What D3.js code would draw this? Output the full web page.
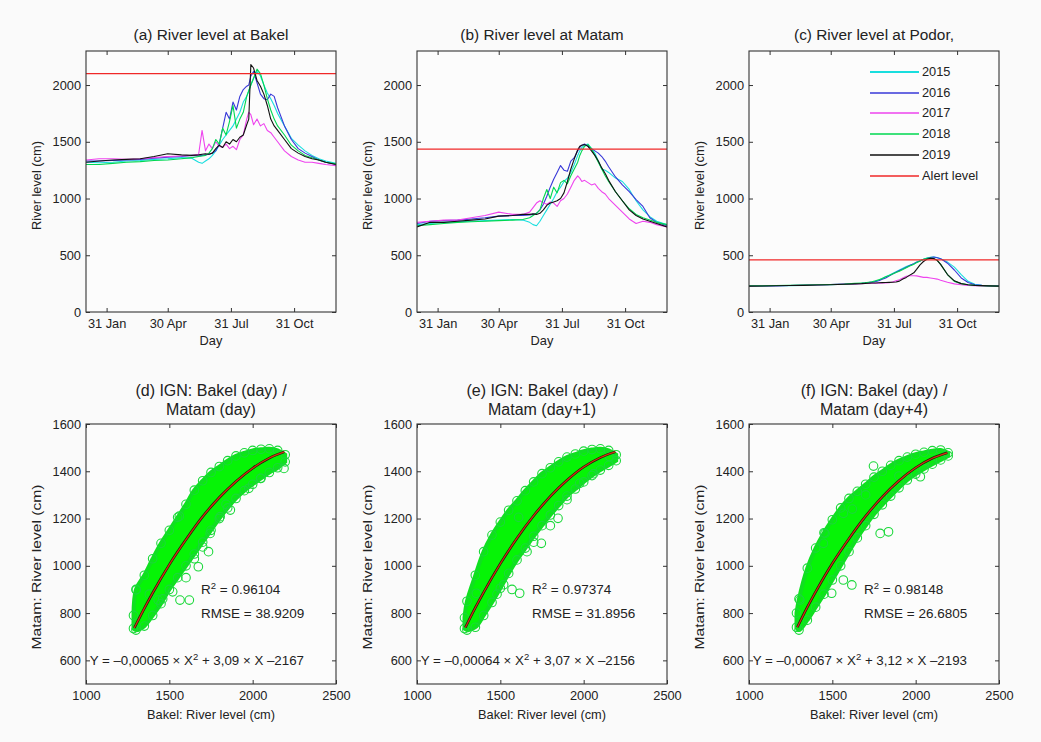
<!DOCTYPE html>
<html><head><meta charset="utf-8">
<script src="https://cdn.jsdelivr.net/npm/d3@7"></script>
<style>
body{margin:0;background:#fafafa}
svg{display:block}
</style>
</head><body>
<svg id="c" width="1041" height="742"></svg>
<script>
// ---------------- DATA ----------------
const years = ["2015", "2016", "2017", "2018", "2019"];
const days = [1,20,40,60,80,100,120,140,155,165,170,175,180,185,190,195,200,205,210,215,220,225,230,235,238,241,245,250,255,260,265,270,275,280,290,300,310,320,330,340,350,365];
const monthTickDays = [31, 120, 212, 304];
const monthTickLabels = ["31 Jan", "30 Apr", "31 Jul", "31 Oct"];
const levelTicks = [0, 500, 1000, 1500, 2000];

// Bakel river level (cm)
const bakel2015 = [1320,1315,1320,1330,1335,1345,1350,1360,1355,1320,1310,1330,1350,1380,1420,1470,1520,1560,1600,1640,1700,1760,1850,1900,1950,2000,2060,2120,2080,2000,1930,1880,1820,1750,1640,1530,1470,1420,1380,1350,1330,1310];
const bakel2016 = [1330,1330,1335,1340,1345,1355,1365,1370,1380,1375,1380,1385,1390,1400,1420,1480,1620,1760,1700,1850,1780,1900,1960,1990,2000,2080,2120,2020,1920,1880,1870,1920,1900,1800,1640,1520,1440,1400,1370,1340,1320,1300];
const bakel2017 = [1340,1350,1350,1345,1350,1360,1370,1375,1380,1390,1600,1420,1480,1440,1500,1460,1450,1480,1440,1460,1430,1520,1560,1700,1760,1740,1650,1700,1640,1660,1600,1580,1540,1500,1420,1370,1340,1320,1320,1310,1300,1290];
const bakel2018 = [1300,1300,1310,1320,1325,1335,1340,1350,1360,1370,1375,1380,1400,1440,1520,1480,1620,1560,1680,1820,1620,1700,1760,1900,1950,2000,2060,2140,2100,2000,1880,1780,1700,1640,1560,1470,1420,1380,1360,1340,1320,1305];
const bakel2019 = [1320,1330,1340,1345,1350,1370,1395,1385,1380,1385,1390,1395,1390,1400,1440,1470,1450,1500,1480,1520,1500,1540,1560,1650,1700,2180,2150,2040,1990,1920,1820,1700,1640,1600,1520,1440,1400,1370,1350,1340,1320,1300];

// Matam river level (cm)
const matam2015 = [770,780,790,795,800,805,810,815,810,790,770,760,800,850,900,950,1000,1060,1100,1150,1180,1230,1300,1380,1420,1450,1470,1480,1440,1400,1330,1260,1250,1230,1180,1150,1080,980,900,840,800,770];
const matam2016 = [780,800,805,810,820,830,845,850,850,855,860,870,900,950,1020,1100,1170,1230,1290,1250,1240,1330,1360,1420,1450,1470,1480,1460,1440,1420,1400,1370,1330,1280,1190,1120,1060,990,930,830,790,760];
const matam2017 = [790,800,810,810,830,850,880,860,860,880,920,960,980,960,950,970,960,930,980,1000,1040,1100,1160,1200,1180,1150,1160,1140,1120,1130,1090,1060,1040,1000,940,880,820,780,800,790,770,750];
const matam2018 = [760,770,780,790,795,800,805,810,815,830,850,870,900,1000,1080,1000,1100,1050,1140,1160,1130,1200,1260,1320,1380,1420,1460,1475,1440,1380,1320,1260,1200,1150,1060,980,910,860,830,810,790,770];
const matam2019 = [750,790,790,800,810,820,845,850,860,860,865,860,870,900,940,960,970,980,1000,1050,1150,1260,1350,1430,1460,1470,1475,1460,1420,1380,1330,1270,1220,1160,1060,980,900,850,820,800,780,750];

// Podor river level (cm)
const podor2015 = [225,228,230,232,235,238,240,245,250,252,255,258,262,270,280,295,310,325,340,355,370,385,400,412,418,425,440,452,465,475,482,485,480,470,440,395,330,270,245,235,230,228];
const podor2016 = [228,230,232,233,236,240,243,247,250,253,256,260,264,268,275,288,300,318,335,350,365,380,395,410,418,425,438,450,462,472,480,485,478,470,430,370,300,260,240,235,232,230];
const podor2017 = [227,229,231,233,236,239,242,246,248,250,251,252,253,254,254,255,255,258,265,275,285,300,315,320,320,320,318,312,305,305,300,295,290,280,262,248,240,235,232,230,229,227];
const podor2018 = [230,230,233,235,237,240,242,246,252,256,258,262,266,275,285,295,310,322,335,348,360,375,390,405,412,420,435,450,465,473,475,470,455,420,330,270,250,240,235,232,230,228];
const podor2019 = [228,229,231,233,235,238,240,244,248,250,252,253,255,256,258,259,260,261,262,264,272,290,305,325,335,345,375,415,445,465,473,472,455,420,330,275,250,240,235,232,230,228];

const alertLevels = [2100, 1435, 460];
const stationTitles = ["(a) River level at Bakel", "(b) River level at Matam", "(c) River level at Podor,"];

// Scatter (Bakel vs Matam): envelope of the dense point cloud + individual circles
const bandX = [1285,1300,1350,1400,1450,1500,1550,1600,1650,1700,1750,1800,1850,1900,1950,2000,2050,2100,2150,2195];
const bandHiD = [790,900,960,1030,1095,1150,1205,1260,1320,1360,1395,1420,1445,1465,1478,1488,1493,1495,1488,1470];
const bandLoD = [735,728,745,790,840,900,950,1000,1050,1100,1150,1200,1245,1285,1318,1345,1370,1395,1415,1440];
const bandHiE = [780,850,960,1060,1130,1185,1235,1275,1318,1355,1390,1415,1440,1460,1473,1485,1492,1495,1488,1470];
const bandLoE = [735,728,740,790,845,905,968,1025,1075,1125,1170,1215,1255,1295,1325,1355,1382,1405,1425,1445];
const bandHiF = [800,860,990,1075,1140,1195,1245,1285,1315,1345,1375,1400,1425,1445,1460,1472,1480,1487,1490,1478];
const bandLoF = [740,728,770,825,880,940,1000,1060,1118,1170,1218,1258,1295,1330,1363,1388,1410,1430,1448,1465];

const outX_D = [1302,1433,1564,1620,1674,1735,1745,1805,1866,1977,2047,1460,1520,1600,1650,2188,1700,1840,1380,1560];
const outY_D = [898,855,855,855,996,1060,1137,1208,1236,1328,1370,860,890,950,1030,1412,1080,1260,880,1210];
const outX_E = [1356,1570,1616,1746,1846,1976,2156,1480,1520,1660,1700,1800,1900,2060,1610];
const outY_E = [884,900,884,1095,1201,1349,1462,880,920,1060,1100,1170,1280,1390,1205];
const outX_F = [1747,1456,1446,1787,1837,1566,1617,1496,1566,1305,2028,1620,1700,1900];
const outY_F = [1422,1137,1095,1137,1144,940,919,884,1222,855,1377,1240,1300,1380];

// fitted curves as drawn
const fitX  = [1290,1350,1400,1500,1600,1700,1800,1900,2000,2100,2190];
const fitYD = [737,820,885,1005,1111,1208,1289,1357,1413,1456,1482];
const fitYE = [739,823,888,1009,1117,1212,1294,1362,1418,1458,1482];
const fitYF = [740,825,890,1010,1115,1210,1292,1360,1415,1455,1478];

const r2Values = ["0.96104", "0.97374", "0.98148"];
const rmseValues = ["38.9209", "31.8956", "26.6805"];
const eqA = ["\u20130,00065", "\u20130,00064", "\u20130,00067"];
const eqB = ["3,09", "3,07", "3,12"];
const eqC = ["\u20132167", "\u20132156", "\u20132193"];
const scatterTitles1 = ["(d) IGN: Bakel (day) /", "(e) IGN: Bakel (day) /", "(f) IGN: Bakel (day) /"];
const scatterTitles2 = ["Matam (day)", "Matam (day+1)", "Matam (day+4)"];
const scatterXTicks = [1000, 1500, 2000, 2500];
const scatterYTicks = [600, 800, 1000, 1200, 1400, 1600];

// ---------------- STYLE / LAYOUT ----------------
const yearColors = ["#19dede", "#3838d8", "#ee44ee", "#00d850", "#111111"];
const alertColor = "#f02828";
const FONT = '"Liberation Sans", Arial, Helvetica, sans-serif';
const W = 250;
const lefts = [86, 417, 749];
const topY = [51, 312];
const botY = [424, 684];

const svg = d3.select("#c").attr("font-family", FONT);

function drawFrame(g, x, y, xTicks, xFmt, yTicks) {
  const [x0, x1] = x.range();
  const [yb, yt] = y.range();
  const ax = g.append("g").attr("transform", `translate(0,${yb})`)
    .call(d3.axisBottom(x).tickValues(xTicks).tickFormat(xFmt).tickSizeInner(-4).tickSizeOuter(0).tickPadding(7));
  const at = g.append("g").attr("transform", `translate(0,${yt})`)
    .call(d3.axisTop(x).tickValues(xTicks).tickFormat("").tickSizeInner(-4).tickSizeOuter(0));
  const ay = g.append("g").attr("transform", `translate(${x0},0)`)
    .call(d3.axisLeft(y).tickValues(yTicks).tickFormat(d3.format("d")).tickSizeInner(-4).tickSizeOuter(0).tickPadding(5));
  const ar = g.append("g").attr("transform", `translate(${x1},0)`)
    .call(d3.axisRight(y).tickValues(yTicks).tickFormat("").tickSizeInner(-4).tickSizeOuter(0));
  [ax, at, ay, ar].forEach(a => {
    a.attr("font-family", FONT).attr("font-size", 12.8).attr("color", "#222");
    a.select(".domain").remove();
    a.selectAll("line").attr("stroke", "#333");
  });
  g.append("rect").attr("x", x0).attr("y", yt).attr("width", x1 - x0).attr("height", yb - yt)
    .attr("fill", "none").attr("stroke", "#333").attr("stroke-width", 1.1);
}

// ---------------- TOP ROW: time series ----------------
const stationSeries = [
  [bakel2015, bakel2016, bakel2017, bakel2018, bakel2019],
  [matam2015, matam2016, matam2017, matam2018, matam2019],
  [podor2015, podor2016, podor2017, podor2018, podor2019]
];

stationSeries.forEach((series, p) => {
  const x = d3.scaleLinear().domain([1, 365]).range([lefts[p], lefts[p] + W]);
  const y = d3.scaleLinear().domain([0, 2300]).range([topY[1], topY[0]]);
  const g = svg.append("g");
  g.append("rect").attr("x", lefts[p]).attr("y", topY[0]).attr("width", W).attr("height", topY[1] - topY[0]).attr("fill", "#fcfcfc");
  const clipId = "clipT" + p;
  g.append("clipPath").attr("id", clipId).append("rect")
    .attr("x", lefts[p]).attr("y", topY[0]).attr("width", W).attr("height", topY[1] - topY[0]);
  const plot = g.append("g").attr("clip-path", `url(#${clipId})`);
  const line = d3.line().x((d, i) => x(days[i])).y(d => y(d));
  series.forEach((s, k) => {
    plot.append("path").datum(s).attr("d", line).attr("fill", "none")
      .attr("stroke", yearColors[k]).attr("stroke-width", 1.1).attr("stroke-linejoin", "round");
  });
  plot.append("line").attr("x1", x(1)).attr("x2", x(365)).attr("y1", y(alertLevels[p])).attr("y2", y(alertLevels[p]))
    .attr("stroke", alertColor).attr("stroke-width", 1.2);
  drawFrame(g, x, y, monthTickDays, (d, i) => monthTickLabels[i], levelTicks);
  g.append("text").attr("x", lefts[p] + W / 2).attr("y", 40).attr("text-anchor", "middle")
    .attr("font-size", 15.4).attr("fill", "#222").text(stationTitles[p]);
  g.append("text").attr("x", lefts[p] + W / 2).attr("y", 345).attr("text-anchor", "middle")
    .attr("font-size", 12.8).attr("fill", "#222").text("Day");
  g.append("text").attr("transform", `translate(${lefts[p] - 45},${(topY[0] + topY[1]) / 2 + 4}) rotate(-90)`)
    .attr("text-anchor", "middle").attr("font-size", 12.8).attr("fill", "#222").text("River level (cm)");

  if (p === 2) {
    const lg = g.append("g");
    const labels = years.concat(["Alert level"]);
    const colors = yearColors.concat([alertColor]);
    labels.forEach((lab, k) => {
      const yy = Math.round(72 + k * 20.7);
      lg.append("line").attr("x1", 870).attr("x2", 919).attr("y1", yy).attr("y2", yy)
        .attr("stroke", colors[k]).attr("stroke-width", k === 0 ? 2 : 1.6);
      lg.append("text").attr("x", 922).attr("y", yy).attr("dy", "0.35em").attr("font-size", 12.8)
        .attr("fill", "#222").text(lab);
    });
  }
});

// ---------------- BOTTOM ROW: scatter ----------------
const bandsHi = [bandHiD, bandHiE, bandHiF];
const bandsLo = [bandLoD, bandLoE, bandLoF];
const outXs = [outX_D, outX_E, outX_F];
const outYs = [outY_D, outY_E, outY_F];
const fitYs = [fitYD, fitYE, fitYF];

[0, 1, 2].forEach(p => {
  const x = d3.scaleLinear().domain([1000, 2500]).range([lefts[p], lefts[p] + W]);
  const y = d3.scaleLinear().domain([500, 1600]).range([botY[1], botY[0]]);
  const g = svg.append("g");
  g.append("rect").attr("x", lefts[p]).attr("y", botY[0]).attr("width", W).attr("height", botY[1] - botY[0]).attr("fill", "#fcfcfc");
  const hi = bandsHi[p], lo = bandsLo[p];
  const pts = bandX.map((bx, i) => ({ x: bx, lo: lo[i], hi: hi[i] }));
  const area = d3.area().x(d => x(d.x)).y0(d => y(d.lo)).y1(d => y(d.hi)).curve(d3.curveCatmullRom);
  g.append("path").datum(pts).attr("d", area).attr("fill", "#06f406").attr("stroke", "#10e020").attr("stroke-width", 4);
  // circles along the cloud edges and isolated points
  const circ = [];
  pts.forEach(d => { circ.push([d.x, d.hi]); circ.push([d.x, d.lo]); });
  outXs[p].forEach((ox, i) => circ.push([ox, outYs[p][i]]));
  g.selectAll("circle.o").data(circ).enter().append("circle")
    .attr("cx", d => x(d[0])).attr("cy", d => y(d[1])).attr("r", 4.3)
    .attr("fill", "none").attr("stroke", "#1bd83a").attr("stroke-width", 1.1);
  // fitted polynomial
  const fl = d3.line().x((v, i) => x(fitX[i])).y(v => y(v)).curve(d3.curveMonotoneX);
  g.append("path").datum(fitYs[p]).attr("d", fl).attr("fill", "none").attr("stroke", "#202010").attr("stroke-width", 2.6);
  g.append("path").datum(fitYs[p]).attr("d", fl).attr("fill", "none").attr("stroke", "#d83010").attr("stroke-width", 1.2);

  drawFrame(g, x, y, scatterXTicks, d3.format("d"), scatterYTicks);

  // annotations
  const t1 = g.append("text").attr("x", x(1690)).attr("y", y(900)).attr("dy", "0.35em").attr("font-size", 13.5).attr("fill", "#222");
  t1.append("tspan").text("R");
  t1.append("tspan").attr("dy", -5).attr("font-size", 9.5).text("2");
  t1.append("tspan").attr("dy", 5).text(" = " + r2Values[p]);
  g.append("text").attr("x", x(1690)).attr("y", y(800)).attr("dy", "0.35em").attr("font-size", 13.5).attr("fill", "#222")
    .text("RMSE = " + rmseValues[p]);
  const t3 = g.append("text").attr("x", x(1022)).attr("y", y(598)).attr("dy", "0.35em").attr("font-size", 13.3).attr("fill", "#222");
  t3.append("tspan").text("Y = " + eqA[p] + " \u00d7 X");
  t3.append("tspan").attr("dy", -5).attr("font-size", 9.5).text("2");
  t3.append("tspan").attr("dy", 5).text(" + " + eqB[p] + " \u00d7 X " + eqC[p]);

  g.append("text").attr("x", lefts[p] + W / 2).attr("y", 396).attr("text-anchor", "middle")
    .attr("font-size", 16).attr("fill", "#222").text(scatterTitles1[p]);
  g.append("text").attr("x", lefts[p] + W / 2).attr("y", 415).attr("text-anchor", "middle")
    .attr("font-size", 16).attr("fill", "#222").text(scatterTitles2[p]);
  g.append("text").attr("x", lefts[p] + W / 2).attr("y", 719).attr("text-anchor", "middle")
    .attr("font-size", 12.8).attr("fill", "#222").text("Bakel: River level (cm)");
  g.append("text").attr("transform", `translate(${lefts[p] - 45},${567}) rotate(-90)`)
    .attr("text-anchor", "middle").attr("font-size", 12.8).attr("fill", "#222")
    .attr("textLength", 165).attr("lengthAdjust", "spacingAndGlyphs").text("Matam: River level (cm)");
});
</script>
</body></html>
